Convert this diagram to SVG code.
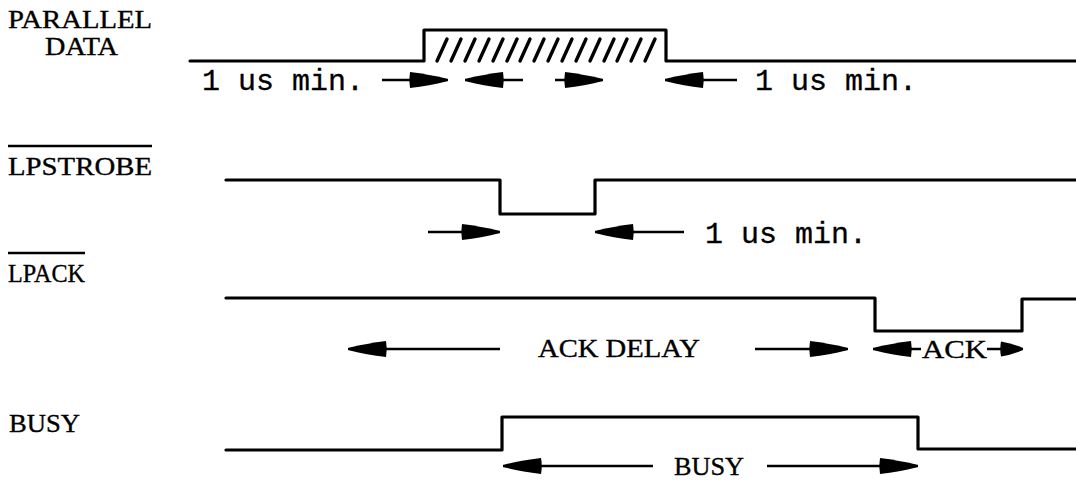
<svg xmlns="http://www.w3.org/2000/svg" width="1076" height="480" viewBox="0 0 1076 480">
<style>
.bg{fill:#fff}
.wave{fill:none;stroke:#000;stroke-width:3.2;stroke-linejoin:round;stroke-linecap:round}
.hatch{stroke:#000;stroke-width:3.4;stroke-linecap:round}
.arr{stroke:#000;stroke-width:2.6;fill:none;marker-end:url(#head)}
.arrs{stroke:#000;stroke-width:2.6;fill:none;marker-end:url(#headS)}
.ovl{stroke:#000;stroke-width:2.6}
.mono{font-family:"Liberation Mono","Courier New",monospace;fill:#000;stroke:#000;stroke-width:0.3}
.serif{font-family:"Liberation Serif","Times New Roman",serif;fill:#000;stroke:#000;stroke-width:0.35}
</style>
<defs>
<marker id="head" markerUnits="userSpaceOnUse" viewBox="-1 0 40 18" refX="38" refY="9" markerWidth="40" markerHeight="18" orient="auto" overflow="visible">
<path d="M0,1 Q20,3.5 36,7.5 Q39.5,9 36,10.5 Q20,14.5 0,17 Q-1.5,9 0,1 Z" fill="#000"/>
</marker>
<marker id="headS" markerUnits="userSpaceOnUse" viewBox="-1 0 24 18" refX="22" refY="9" markerWidth="24" markerHeight="18" orient="auto" overflow="visible">
<path d="M0,1.5 Q12,3.5 20.5,7.5 Q23.5,9 20.5,10.5 Q12,14.5 0,16.5 Q-1.5,9 0,1.5 Z" fill="#000"/>
</marker>
</defs>
<rect class="bg" x="0" y="0" width="1076" height="480"/>

<g id="parallel-data">
<text class="serif" x="8" y="28" font-size="25" textLength="144" lengthAdjust="spacingAndGlyphs">PARALLEL</text>
<text class="serif" x="45" y="55" font-size="25" textLength="73" lengthAdjust="spacingAndGlyphs">DATA</text>
<path class="wave" d="M190,61 H424 V30 H666 V61 H1076"/>
<g class="hatch">
<line x1="437" y1="61" x2="447" y2="39"/>
<line x1="451" y1="61" x2="461" y2="39"/>
<line x1="465" y1="61" x2="475" y2="39"/>
<line x1="479" y1="61" x2="489" y2="39"/>
<line x1="493" y1="61" x2="503" y2="39"/>
<line x1="507" y1="61" x2="517" y2="39"/>
<line x1="520" y1="61" x2="530" y2="39"/>
<line x1="534" y1="61" x2="544" y2="39"/>
<line x1="548" y1="61" x2="558" y2="39"/>
<line x1="562" y1="61" x2="572" y2="39"/>
<line x1="576" y1="61" x2="586" y2="39"/>
<line x1="590" y1="61" x2="600" y2="39"/>
<line x1="604" y1="61" x2="614" y2="39"/>
<line x1="617" y1="61" x2="627" y2="39"/>
<line x1="631" y1="61" x2="641" y2="39"/>
<line x1="645" y1="61" x2="655" y2="39"/>
</g>
<text class="mono" x="202" y="90" font-size="30">1 us min.</text>
<text class="mono" x="755" y="90" font-size="30">1 us min.</text>
</g>

<g id="lpstrobe">
<line class="ovl" x1="8" y1="146" x2="152" y2="146"/>
<text class="serif" x="8" y="175" font-size="25" textLength="144" lengthAdjust="spacingAndGlyphs">LPSTROBE</text>
<path class="wave" d="M226,180 H500 V214 H595 V180 H1076"/>
<text class="mono" x="705" y="243" font-size="30">1 us min.</text>
</g>

<g id="lpack">
<line class="ovl" x1="8" y1="253" x2="85" y2="253"/>
<text class="serif" x="8" y="282" font-size="25" textLength="77" lengthAdjust="spacingAndGlyphs">LPACK</text>
<path class="wave" d="M226,298 H875 V331 H1022 V299 H1076"/>
<text class="serif" x="538" y="357" font-size="25" textLength="162" lengthAdjust="spacingAndGlyphs">ACK DELAY</text>
<text class="serif" x="922" y="358" font-size="25" textLength="65" lengthAdjust="spacingAndGlyphs">ACK</text>
</g>

<g id="busy">
<text class="serif" x="9" y="432" font-size="25" textLength="71" lengthAdjust="spacingAndGlyphs">BUSY</text>
<path class="wave" d="M226,450 H502 V417 H918 V449 H1076"/>
<text class="serif" x="674" y="475" font-size="25" textLength="70" lengthAdjust="spacingAndGlyphs">BUSY</text>
</g>

<g id="connectors">
<line class="arr" x1="382" y1="80" x2="448" y2="80"/>
<line class="arr" x1="523" y1="80" x2="465" y2="80"/>
<line class="arr" x1="555" y1="80" x2="603" y2="80"/>
<line class="arr" x1="737" y1="80" x2="665" y2="80"/>
<line class="arr" x1="428" y1="232" x2="500" y2="232"/>
<line class="arr" x1="684" y1="232" x2="595" y2="232"/>
<line class="arr" x1="500" y1="349" x2="348" y2="349"/>
<line class="arr" x1="755" y1="349" x2="848" y2="349"/>
<line class="arr" x1="921" y1="349" x2="873" y2="349"/>
<line class="arrs" x1="987" y1="349" x2="1023" y2="349"/>
<line class="arr" x1="653" y1="466" x2="503" y2="466"/>
<line class="arr" x1="767" y1="466" x2="918" y2="466"/>
</g>
</svg>
